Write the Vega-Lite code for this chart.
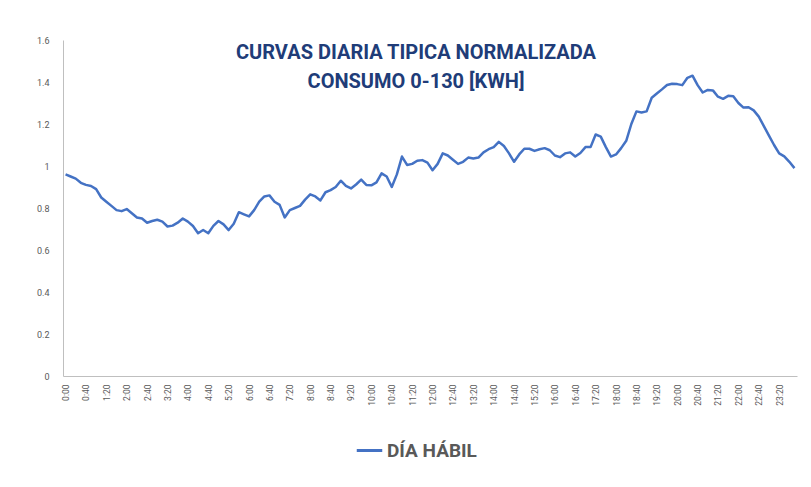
{
  "$schema": "https://vega.github.io/schema/vega-lite/v6.json",
  "width": 734,
  "height": 336,
  "autosize": {"type": "none"},
  "padding": {"left": 63, "top": 40, "right": 14, "bottom": 111},
  "background": "white",
  "title": {
    "text": ["CURVAS DIARIA TIPICA NORMALIZADA", "CONSUMO 0-130 [KWH]"],
    "anchor": "middle",
    "frame": "group",
    "font": "Roboto",
    "fontSize": 20,
    "fontWeight": "bold",
    "color": "#203C78",
    "lineHeight": 29,
    "baseline": "top",
    "dx": -14,
    "dy": 60
  },
  "config": {
    "view": {"stroke": null},
    "axis": {"grid": false, "ticks": false, "domainColor": "#BFBFBF", "labelColor": "#595959", "labelFont": "Roboto", "titleFont": "Roboto"}
  },
  "data": {"values": [
    {"t":"0:00","v":0.96},{"t":"0:10","v":0.95},{"t":"0:20","v":0.94},{"t":"0:30","v":0.92},{"t":"0:40","v":0.91},{"t":"0:50","v":0.905},
    {"t":"1:00","v":0.89},{"t":"1:10","v":0.85},{"t":"1:20","v":0.83},{"t":"1:30","v":0.81},{"t":"1:40","v":0.79},{"t":"1:50","v":0.785},
    {"t":"2:00","v":0.795},{"t":"2:10","v":0.775},{"t":"2:20","v":0.755},{"t":"2:30","v":0.75},{"t":"2:40","v":0.73},{"t":"2:50","v":0.738},
    {"t":"3:00","v":0.744},{"t":"3:10","v":0.735},{"t":"3:20","v":0.712},{"t":"3:30","v":0.716},{"t":"3:40","v":0.73},{"t":"3:50","v":0.75},
    {"t":"4:00","v":0.735},{"t":"4:10","v":0.714},{"t":"4:20","v":0.68},{"t":"4:30","v":0.695},{"t":"4:40","v":0.68},{"t":"4:50","v":0.715},
    {"t":"5:00","v":0.738},{"t":"5:10","v":0.722},{"t":"5:20","v":0.695},{"t":"5:30","v":0.725},{"t":"5:40","v":0.78},{"t":"5:50","v":0.77},
    {"t":"6:00","v":0.76},{"t":"6:10","v":0.79},{"t":"6:20","v":0.83},{"t":"6:30","v":0.855},{"t":"6:40","v":0.86},{"t":"6:50","v":0.83},
    {"t":"7:00","v":0.815},{"t":"7:10","v":0.755},{"t":"7:20","v":0.79},{"t":"7:30","v":0.8},{"t":"7:40","v":0.81},{"t":"7:50","v":0.84},
    {"t":"8:00","v":0.865},{"t":"8:10","v":0.855},{"t":"8:20","v":0.836},{"t":"8:30","v":0.875},{"t":"8:40","v":0.885},{"t":"8:50","v":0.9},
    {"t":"9:00","v":0.93},{"t":"9:10","v":0.905},{"t":"9:20","v":0.893},{"t":"9:30","v":0.912},{"t":"9:40","v":0.935},{"t":"9:50","v":0.91},
    {"t":"10:00","v":0.908},{"t":"10:10","v":0.922},{"t":"10:20","v":0.965},{"t":"10:30","v":0.95},{"t":"10:40","v":0.9},{"t":"10:50","v":0.96},
    {"t":"11:00","v":1.045},{"t":"11:10","v":1.005},{"t":"11:20","v":1.01},{"t":"11:30","v":1.025},{"t":"11:40","v":1.028},{"t":"11:50","v":1.016},
    {"t":"12:00","v":0.98},{"t":"12:10","v":1.01},{"t":"12:20","v":1.06},{"t":"12:30","v":1.05},{"t":"12:40","v":1.03},{"t":"12:50","v":1.01},
    {"t":"13:00","v":1.02},{"t":"13:10","v":1.04},{"t":"13:20","v":1.036},{"t":"13:30","v":1.04},{"t":"13:40","v":1.065},{"t":"13:50","v":1.08},
    {"t":"14:00","v":1.09},{"t":"14:10","v":1.115},{"t":"14:20","v":1.095},{"t":"14:30","v":1.06},{"t":"14:40","v":1.02},{"t":"14:50","v":1.055},
    {"t":"15:00","v":1.082},{"t":"15:10","v":1.082},{"t":"15:20","v":1.072},{"t":"15:30","v":1.08},{"t":"15:40","v":1.085},{"t":"15:50","v":1.075},
    {"t":"16:00","v":1.05},{"t":"16:10","v":1.042},{"t":"16:20","v":1.06},{"t":"16:30","v":1.065},{"t":"16:40","v":1.045},{"t":"16:50","v":1.062},
    {"t":"17:00","v":1.09},{"t":"17:10","v":1.09},{"t":"17:20","v":1.15},{"t":"17:30","v":1.14},{"t":"17:40","v":1.09},{"t":"17:50","v":1.045},
    {"t":"18:00","v":1.055},{"t":"18:10","v":1.085},{"t":"18:20","v":1.12},{"t":"18:30","v":1.2},{"t":"18:40","v":1.26},{"t":"18:50","v":1.255},
    {"t":"19:00","v":1.26},{"t":"19:10","v":1.325},{"t":"19:20","v":1.345},{"t":"19:30","v":1.365},{"t":"19:40","v":1.386},{"t":"19:50","v":1.392},
    {"t":"20:00","v":1.39},{"t":"20:10","v":1.385},{"t":"20:20","v":1.42},{"t":"20:30","v":1.43},{"t":"20:40","v":1.385},{"t":"20:50","v":1.35},
    {"t":"21:00","v":1.362},{"t":"21:10","v":1.36},{"t":"21:20","v":1.33},{"t":"21:30","v":1.32},{"t":"21:40","v":1.334},{"t":"21:50","v":1.332},
    {"t":"22:00","v":1.3},{"t":"22:10","v":1.278},{"t":"22:20","v":1.28},{"t":"22:30","v":1.265},{"t":"22:40","v":1.235},{"t":"22:50","v":1.19},
    {"t":"23:00","v":1.145},{"t":"23:10","v":1.1},{"t":"23:20","v":1.06},{"t":"23:30","v":1.046},{"t":"23:40","v":1.02},{"t":"23:50","v":0.99}
  ]},
  "mark": {"type": "line", "strokeWidth": 2.5, "strokeJoin": "round"},
  "encoding": {
    "x": {
      "field": "t", "type": "ordinal", "sort": null,
      "scale": {"type": "point", "padding": 0.5},
      "axis": {
        "title": null,
        "values": ["0:00","0:40","1:20","2:00","2:40","3:20","4:00","4:40","5:20","6:00","6:40","7:20","8:00","8:40","9:20","10:00","10:40","11:20","12:00","12:40","13:20","14:00","14:40","15:20","16:00","16:40","17:20","18:00","18:40","19:20","20:00","20:40","21:20","22:00","22:40","23:20"],
        "labelAngle": 270,
        "labelFontSize": 8.5,
        "labelPadding": 8
      }
    },
    "y": {
      "field": "v", "type": "quantitative",
      "scale": {"domain": [0, 1.6], "nice": false},
      "axis": {
        "title": null,
        "values": [0, 0.2, 0.4, 0.6, 0.8, 1, 1.2, 1.4, 1.6],
        "format": "~g",
        "labelFontSize": 9,
        "labelPadding": 14
      }
    },
    "color": {
      "datum": "DÍA HÁBIL",
      "scale": {"range": ["#4472C4"]},
      "legend": {
        "title": null,
        "orient": "none",
        "legendX": 292,
        "legendY": 396,
        "symbolType": "stroke",
        "symbolSize": 650,
        "symbolStrokeWidth": 3,
        "labelFont": "Roboto",
        "labelFontSize": 19,
        "labelFontWeight": "bold",
        "labelColor": "#595959",
        "labelOffset": 3
      }
    }
  }
}
